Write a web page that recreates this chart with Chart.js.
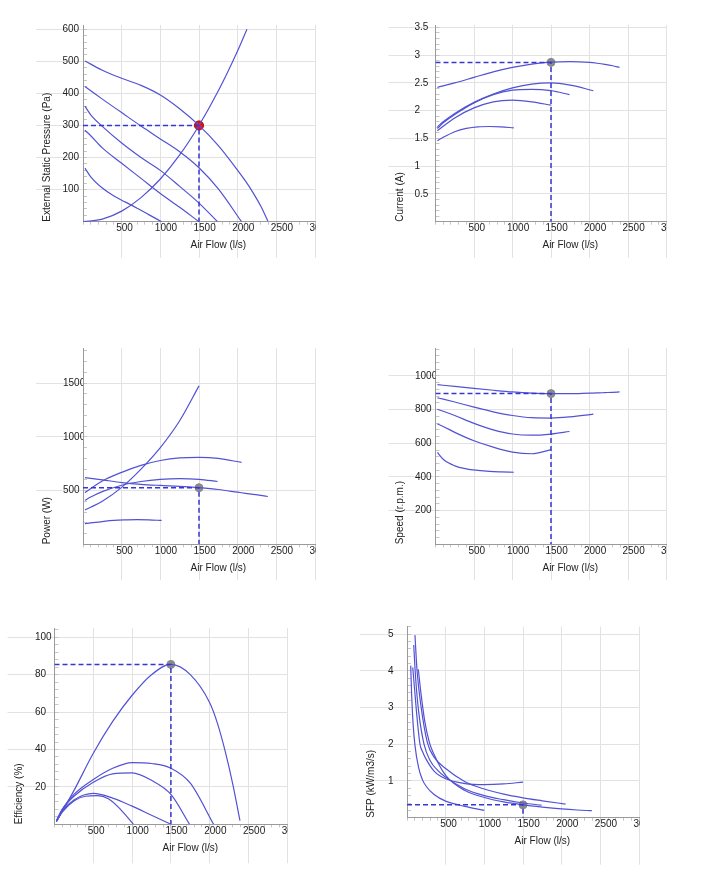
<!DOCTYPE html>
<html>
<head>
<meta charset="UTF-8">
<title>Fan performance curves</title>
<script src="https://cdn.jsdelivr.net/npm/chart.js@4.4.1/dist/chart.umd.min.js"></script>
<style>
  html, body { margin: 0; padding: 0; background: #fff; }
  #sheet { position: relative; width: 713px; height: 881px; overflow: hidden; }
  #sheet canvas { position: absolute; }
</style>
</head>
<body>
<div id="sheet">
  <canvas id="pressure"></canvas>
  <canvas id="current"></canvas>
  <canvas id="power"></canvas>
  <canvas id="speed"></canvas>
  <canvas id="efficiency"></canvas>
  <canvas id="sfp"></canvas>
</div>
<script>
// air flow (l/s) of each fan curve, A = top curve ... E = smallest
const flowA = [25, 250, 500, 750, 1000, 1250, 1500, 1750, 2000, 2100, 2200, 2300, 2390];
const flowB = [25, 100, 250, 500, 750, 1000, 1250, 1500, 1750, 2050];
const flowC = [25, 100, 250, 500, 750, 1000, 1250, 1500, 1740];
const flowD = [25, 100, 250, 500, 750, 1000, 1250, 1500];
const flowE = [25, 100, 250, 400, 550, 700, 850, 1017];

// external static pressure (Pa)
const pressA = [501, 472, 447, 425, 395, 352, 300, 237, 160, 127, 90, 48, 2];
const pressB = [421, 408, 382, 340, 298, 258, 218, 168, 102, 0];
const pressC = [360, 333, 297, 245, 200, 160, 110, 58, 0];
const pressD = [285, 268, 230, 182, 135, 88, 45, 0];
const pressE = [167, 140, 105, 80, 61, 42, 22, 0];
const systemFlow = [0, 250, 500, 750, 1000, 1250, 1500, 1750, 2000, 2120];
const systemPress = [0, 8, 33, 75, 133, 208, 300, 408, 533, 600];

// current (A)
const currA = [2.42, 2.5, 2.6, 2.7, 2.78, 2.84, 2.875, 2.885, 2.87, 2.855, 2.835, 2.81, 2.78];
const currB = [1.71, 1.8, 1.95, 2.15, 2.3, 2.41, 2.48, 2.5, 2.46, 2.36];
const currC = [1.68, 1.78, 1.93, 2.14, 2.29, 2.37, 2.385, 2.36, 2.29];
const currD = [1.64, 1.72, 1.87, 2.05, 2.16, 2.19, 2.16, 2.1];
const currE = [1.46, 1.52, 1.62, 1.68, 1.71, 1.715, 1.71, 1.69];

// power (W)
const powA = [620, 600, 575, 558, 548, 540, 527, 510, 485, 475, 465, 455, 445];
const powB = [480, 520, 590, 670, 735, 780, 805, 810, 800, 762];
const powC = [410, 440, 490, 550, 585, 605, 612, 605, 585];
const powD = [320, 345, 400, 530, 700, 900, 1150, 1475];
const powE = [192, 200, 212, 222, 227, 230, 228, 222];

// speed (r.p.m.)
const spdA = [948, 938, 926, 915, 905, 898, 895, 895, 898, 899, 901, 903, 905];
const spdB = [870, 862, 845, 815, 787, 765, 752, 750, 757, 773];
const spdC = [802, 790, 765, 718, 680, 655, 648, 655, 670];
const spdD = [715, 700, 665, 615, 577, 548, 538, 562];
const spdE = [546, 505, 466, 448, 439, 433, 430, 428];

// efficiency (%)
const effA = [1.5, 18, 38, 55, 69, 80, 85.5, 80, 65, 54, 39, 21, 2];
const effB = [2, 8, 16, 24, 30, 33, 32.5, 30, 22, 0];
const effC = [2, 8, 15, 22.5, 27, 27.5, 23.5, 16, 0];
const effD = [1.5, 7, 13, 16.5, 14, 9.7, 4.8, 0];
const effE = [1.5, 6.5, 12.5, 15, 15.3, 13.5, 8, 0];

// SFP (kW/m3/s) has its own flow points
const sfpFlowA = [146, 180, 230, 289, 350, 500, 750, 1000, 1250, 1500, 1750, 2000, 2200, 2390];
const sfpA = [4.04, 3.4, 2.62, 2.05, 1.72, 1.15, 0.74, 0.55, 0.43, 0.35, 0.29, 0.24, 0.21, 0.19];
const sfpFlowB = [103, 130, 180, 263, 350, 500, 750, 1000, 1250, 1500, 1750, 2050];
const sfpB = [4.97, 4.0, 3.05, 2.05, 1.65, 1.34, 0.98, 0.78, 0.64, 0.54, 0.46, 0.37];
const sfpFlowC = [87, 110, 150, 220, 300, 400, 500, 750, 1000, 1250, 1500, 1740];
const sfpC = [4.7, 3.85, 2.9, 2.0, 1.55, 1.28, 1.1, 0.78, 0.6, 0.49, 0.4, 0.34];
const sfpFlowD = [74, 100, 130, 168, 200, 250, 350, 500, 750, 1000, 1250, 1500];
const sfpD = [4.09, 3.45, 2.72, 2.0, 1.8, 1.58, 1.27, 1.06, 0.93, 0.9, 0.92, 0.97];
const sfpFlowE = [48, 60, 80, 103, 150, 200, 250, 350, 500, 750, 1000];
const sfpE = [4.14, 3.35, 2.52, 1.97, 1.36, 1.03, 0.85, 0.63, 0.45, 0.31, 0.2];

// duty point
const dutyFlow = 1500;
const dutyPressure = 300;
const dutyCurrent = 2.87;
const dutyPower = 527;
const dutySpeed = 895;
const dutyEff = 85.5;
const dutySfp = 0.35;

// tick labels
const flowTicks = [500, 1000, 1500, 2000, 2500, 3000];
const pressureTicks = [100, 200, 300, 400, 500, 600];
const currentTicks = [0.5, 1, 1.5, 2, 2.5, 3, 3.5];
const powerTicks = [500, 1000, 1500];
const speedTicks = [200, 400, 600, 800, 1000];
const effTicks = [20, 40, 60, 80, 100];
const sfpTicks = [1, 2, 3, 4, 5];

const flowMax = 3000, flowMinor = 100;

const CURVE = '#5252d4';
const DASH = '#3636d2';
const GRID = '#e2e2e2';
const AXIS = '#9a9a9a';
const MINOR = '#c6c6c6';
const INK = '#222';
const FONT = {family: '"Liberation Sans", Arial, sans-serif', size: 10};

function pts(xs, ys) {
  return xs.map((x, i) => ({x: x, y: ys[i]}));
}

function curve(xs, ys) {
  return {data: pts(xs, ys), showLine: true, borderColor: CURVE, borderWidth: 1.2,
    pointRadius: 0, cubicInterpolationMode: 'monotone', fill: false};
}

function dutyLines(y) {
  return {data: [{x: 0, y: y}, {x: dutyFlow, y: y}, {x: dutyFlow, y: 0}], showLine: true,
    borderColor: DASH, borderWidth: 1.5, borderDash: [5, 3], pointRadius: 0, tension: 0};
}

function dutyDot(y, fill, edge, r) {
  return {data: [{x: dutyFlow, y: y}], showLine: false, pointRadius: r,
    backgroundColor: fill, borderColor: edge, borderWidth: 1};
}

const useTicks = list => s => { s.ticks = list.map(v => ({value: v})); };

// axis title under the x axis, the original sits right of centre
const airFlowTitle = {
  id: 'airFlowTitle',
  afterDraw(chart, args, opts) {
    const x = chart.scales.x;
    const ctx = chart.ctx;
    ctx.save();
    ctx.font = FONT.size + 'px ' + FONT.family;
    ctx.fillStyle = INK;
    ctx.textAlign = 'center';
    ctx.textBaseline = 'middle';
    ctx.fillText(opts.text, x.getPixelForValue(opts.at), x.top + 23.5);
    ctx.restore();
  }
};

function makeChart(id, box, area, y, datasets) {
  const cx = box[0], cy = box[1], cw = box[2], ch = box[3];
  const canvas = document.getElementById(id);
  canvas.width = cw;
  canvas.height = ch;
  canvas.style.left = cx + 'px';
  canvas.style.top = cy + 'px';
  const xTick = area.xTick || 36;
  const yWidth = area.left - area.labelLeft;
  const titlePad = (area.left - 35.5) - area.labelLeft - 6;

  return new Chart(canvas, {
    type: 'scatter',
    data: {datasets: datasets},
    plugins: [airFlowTitle],
    options: {
      responsive: false,
      animation: false,
      devicePixelRatio: 1,
      events: [],
      layout: {
        autoPadding: false,
        padding: {left: area.labelLeft - cx, right: cx + cw - area.right, top: area.top - cy,
          bottom: cy + ch - area.bottom - 40}
      },
      plugins: {
        legend: {display: false},
        tooltip: {enabled: false},
        airFlowTitle: {text: 'Air Flow (l/s)', at: 1750}
      },
      scales: {
        x: {
          type: 'linear', position: 'bottom', weight: 1, min: 0, max: flowMax,
          afterBuildTicks: useTicks(flowTicks),
          afterFit: s => { s.height = 40; },
          ticks: {autoSkip: false, maxRotation: 0, align: 'start', labelOffset: -5.5,
            padding: 1 - xTick, color: INK, font: FONT, callback: v => String(v)},
          grid: {color: GRID, tickColor: GRID, tickLength: xTick},
          border: {color: AXIS}
        },
        xMinor: {
          type: 'linear', position: 'bottom', weight: 0, min: 0, max: flowMax,
          afterFit: s => { s.height = 0; },
          ticks: {display: false, stepSize: flowMinor},
          grid: {drawOnChartArea: false, tickLength: 3, color: MINOR},
          border: {display: false}
        },
        y: {
          type: 'linear', position: 'left', weight: 1, min: 0, max: y.max,
          afterBuildTicks: useTicks(y.ticks),
          afterFit: s => { s.width = yWidth; },
          ticks: {crossAlign: 'far', color: INK, font: FONT, callback: v => String(v)},
          grid: {color: GRID, tickColor: GRID, tickLength: 47},
          border: {color: AXIS},
          title: {display: true, text: y.title, align: 'start', color: INK, font: FONT,
            padding: {top: titlePad, bottom: 0}}
        },
        yMinor: {
          type: 'linear', position: 'left', weight: 0, min: 0, max: y.max,
          afterFit: s => { s.width = 0; },
          ticks: {display: false, stepSize: y.minor, includeBounds: false},
          grid: {drawOnChartArea: false, tickLength: -4, color: MINOR},
          border: {display: false}
        }
      }
    }
  });
}

makeChart('pressure', [0, 0, 316, 265],
  {left: 83, right: 315, top: 25, bottom: 221.7, labelLeft: 62.5},
  {max: 613, ticks: pressureTicks, minor: 20, title: 'External Static Pressure (Pa)'},
  [dutyLines(dutyPressure),
   curve(flowA, pressA), curve(flowB, pressB), curve(flowC, pressC),
   curve(flowD, pressD), curve(flowE, pressE), curve(systemFlow, systemPress),
   dutyDot(dutyPressure, '#ee1111', '#990000', 4.5)]);

makeChart('current', [360, 0, 307, 265],
  {left: 435.5, right: 666.5, top: 25, bottom: 221.7, labelLeft: 414.5},
  {max: 3.544, ticks: currentTicks, minor: 0.1, title: 'Current (A)'},
  [dutyLines(dutyCurrent),
   curve(flowA, currA), curve(flowB, currB), curve(flowC, currC),
   curve(flowD, currD), curve(flowE, currE),
   dutyDot(dutyCurrent, '#8a8a8a', '#8a8a8a', 4)]);

makeChart('power', [0, 320, 316, 270],
  {left: 83, right: 315, top: 348.3, bottom: 544.3, labelLeft: 63},
  {max: 1825, ticks: powerTicks, minor: 100, title: 'Power (W)'},
  [dutyLines(dutyPower),
   curve(flowA, powA), curve(flowB, powB), curve(flowC, powC),
   curve(flowD, powD), curve(flowE, powE),
   dutyDot(dutyPower, '#8a8a8a', '#8a8a8a', 4)]);

makeChart('speed', [360, 320, 307, 270],
  {left: 435.5, right: 666.5, top: 348, bottom: 544.3, labelLeft: 415},
  {max: 1166, ticks: speedTicks, minor: 40, title: 'Speed (r.p.m.)'},
  [dutyLines(dutySpeed),
   curve(flowA, spdA), curve(flowB, spdB), curve(flowC, spdC),
   curve(flowD, spdD), curve(flowE, spdE),
   dutyDot(dutySpeed, '#8a8a8a', '#8a8a8a', 4)]);

makeChart('efficiency', [0, 600, 288, 281],
  {left: 54.5, right: 287.3, top: 628.3, bottom: 824.3, labelLeft: 35, xTick: 39},
  {max: 104.8, ticks: effTicks, minor: 4, title: 'Efficiency (%)'},
  [dutyLines(dutyEff),
   curve(flowA, effA), curve(flowB, effB), curve(flowC, effC),
   curve(flowD, effD), curve(flowE, effE),
   dutyDot(dutyEff, '#8a8a8a', '#8a8a8a', 4)]);

makeChart('sfp', [360, 600, 280, 281],
  {left: 407, right: 639, top: 626.7, bottom: 817.7, labelLeft: 388, xTick: 47},
  {max: 5.2, ticks: sfpTicks, minor: 0.2, title: 'SFP (kW/m3/s)'},
  [dutyLines(dutySfp),
   curve(sfpFlowA, sfpA), curve(sfpFlowB, sfpB), curve(sfpFlowC, sfpC),
   curve(sfpFlowD, sfpD), curve(sfpFlowE, sfpE),
   dutyDot(dutySfp, '#8a8a8a', '#8a8a8a', 4)]);
</script>
</body>
</html>
